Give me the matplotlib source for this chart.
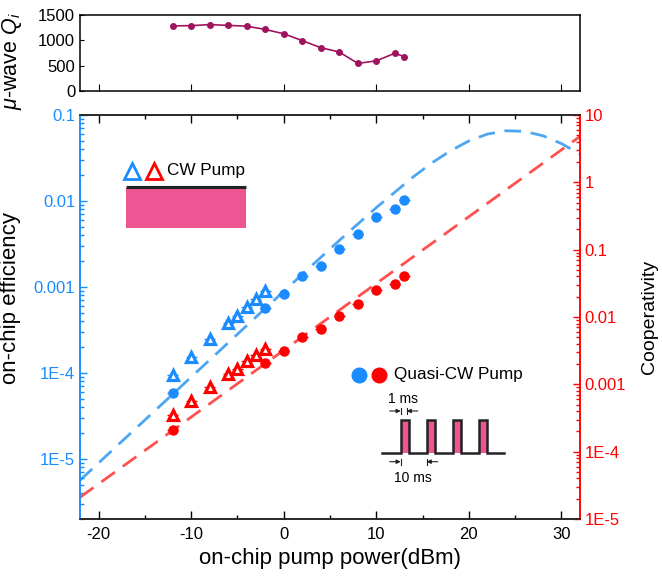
import matplotlib
matplotlib.use('Agg')
import matplotlib.pyplot as plt
import numpy as np
from matplotlib.ticker import FixedLocator, FuncFormatter, LogLocator, MultipleLocator, NullFormatter

plt.rcParams['font.family'] = ['Liberation Sans', 'DejaVu Sans']
plt.rcParams['mathtext.fontset'] = 'custom'
plt.rcParams['mathtext.it'] = 'Liberation Sans:italic'
plt.rcParams['mathtext.rm'] = 'Liberation Sans'
plt.rcParams['axes.unicode_minus'] = False

# ---- data ----
# microwave intrinsic Q vs pump power (top panel)
q_power = [-12, -10, -8, -6, -4, -2, 0, 2, 4, 6, 8, 10, 12, 13]
q_value = [1285, 1290, 1310, 1295, 1280, 1215, 1130, 995, 855, 770, 545, 595, 745, 680]

# quasi-CW pump (circles)
qcw_power = [-12, -2, 0, 2, 4, 6, 8, 10, 12, 13]
qcw_eff = [5.8e-5, 5.65e-4, 8.35e-4, 1.35e-3, 1.77e-3, 2.79e-3, 4.17e-3, 6.5e-3, 8.0e-3, 1.03e-2]
qcw_coop = [2.12e-4, 2.09e-3, 3.08e-3, 4.97e-3, 6.53e-3, 1.03e-2, 1.58e-2, 2.55e-2, 3.13e-2, 4.07e-2]

# CW pump (triangles)
cw_power = [-12, -10, -8, -6, -5, -4, -3, -2]
cw_eff = [9.5e-5, 1.53e-4, 2.45e-4, 3.78e-4, 4.63e-4, 5.9e-4, 7.2e-4, 8.97e-4]
cw_coop = [3.55e-4, 5.6e-4, 9.06e-4, 1.43e-3, 1.70e-3, 2.21e-3, 2.75e-3, 3.37e-3]

# theory curves (dashed)
th_power = [-22, -18, -14, -10, -6, -2, 2, 6, 10, 14, 16, 18, 20, 22, 24, 26, 28, 30, 32]
th_eff = [5.64e-6, 1.42e-5, 3.56e-5, 8.94e-5, 2.24e-4, 5.62e-4, 1.40e-3, 3.47e-3, 8.37e-3,
          1.91e-2, 2.77e-2, 3.83e-2, 4.99e-2, 6.00e-2, 6.56e-2, 6.45e-2, 5.73e-2, 4.65e-2, 3.49e-2]
coop_power = [-22, 32]
coop_line = [2.1e-5, 4.8]

xerr = 0.6

blue = '#1a8cff'
blue_l = '#4da6f2'
red = '#ff0000'
red_l = '#ff5050'
pink = '#ef5592'
purple = '#a0145e'

W, H = 662, 577
fig = plt.figure(figsize=(W / 100, H / 100), dpi=100)

# ---- main axes ----
ax = fig.add_axes([80 / W, 1 - 519 / H, 500 / W, 404 / H])
ax2 = ax.twinx()

ax.set_xlim(-22, 32)
ax.set_yscale('log')
ax.set_ylim(2e-6, 0.1)
ax2.set_yscale('log')
ax2.set_ylim(1e-5, 10)

ax.plot(th_power, th_eff, color=blue_l, lw=2.0, dashes=(6, 3.5), zorder=1)
ax2.plot(coop_power, coop_line, color=red_l, lw=2.0, dashes=(6, 3.5), zorder=1)

ax.errorbar(qcw_power, qcw_eff, xerr=xerr, fmt='o', color=blue, ms=6.5, elinewidth=1, capsize=0, zorder=3)
ax.errorbar(cw_power, cw_eff, xerr=xerr, fmt='^', color=blue, mfc='white', mec=blue, mew=2.3,
            ms=6.5, elinewidth=1, capsize=0, zorder=3)
ax2.errorbar(qcw_power, qcw_coop, xerr=xerr, fmt='o', color=red, ms=6.5, elinewidth=1, capsize=0, zorder=3)
ax2.errorbar(cw_power, cw_coop, xerr=xerr, fmt='^', color=red, mfc='white', mec=red, mew=2.3,
             ms=6.5, elinewidth=1, capsize=0, zorder=3)

left_labels = {0.1: '0.1', 0.01: '0.01', 0.001: '0.001', 1e-4: '1E-4', 1e-5: '1E-5'}
right_labels = {10: '10', 1: '1', 0.1: '0.1', 0.01: '0.01', 0.001: '0.001', 1e-4: '1E-4', 1e-5: '1E-5'}


def fmt_from(d):
    def f(v, pos):
        for k, s in d.items():
            if abs(np.log10(v) - np.log10(k)) < 1e-6:
                return s
        return ''
    return FuncFormatter(f)


ax.yaxis.set_major_locator(FixedLocator(list(left_labels.keys())))
ax.yaxis.set_major_formatter(fmt_from(left_labels))
ax.yaxis.set_minor_locator(LogLocator(base=10, subs=np.arange(2, 10)))
ax.yaxis.set_minor_formatter(NullFormatter())
ax2.yaxis.set_major_locator(FixedLocator(list(right_labels.keys())))
ax2.yaxis.set_major_formatter(fmt_from(right_labels))
ax2.yaxis.set_minor_locator(LogLocator(base=10, subs=np.arange(2, 10)))
ax2.yaxis.set_minor_formatter(NullFormatter())

ax.xaxis.set_major_locator(MultipleLocator(10))
ax.xaxis.set_minor_locator(MultipleLocator(5))
ax.tick_params(axis='x', which='both', direction='in', top=True, labelsize=12, pad=6, width=1)
ax.tick_params(axis='x', which='major', length=6)
ax.tick_params(axis='x', which='minor', length=3)
ax.tick_params(axis='y', which='both', direction='in', colors=blue, labelsize=12, width=1)
ax.tick_params(axis='y', which='major', length=5)
ax.tick_params(axis='y', which='minor', length=3)
ax2.tick_params(axis='y', which='both', direction='in', colors=red, labelsize=12, width=1)
ax2.tick_params(axis='y', which='major', length=5)
ax2.tick_params(axis='y', which='minor', length=3)

for a in (ax, ax2):
    for s in a.spines.values():
        s.set_linewidth(1.1)
    a.spines['left'].set_color(blue)
    a.spines['right'].set_color(red)
    a.spines['top'].set_color('#222222')
    a.spines['bottom'].set_color('#222222')

ax.set_xlabel('on-chip pump power(dBm)', fontsize=16, labelpad=4)
ax.set_ylabel('on-chip efficiency', fontsize=16)
ax.yaxis.set_label_coords(-0.118, 0.547)
ax2.set_ylabel('Cooperativity', fontsize=14)
ax2.yaxis.set_label_coords(1.122, 0.5)

# ---- top panel ----
axt = fig.add_axes([80 / W, 1 - 91 / H, 500 / W, 76 / H])
axt.plot(q_power, q_value, '-o', color=purple, ms=4, lw=1.2)
axt.set_xlim(-22, 32)
axt.set_ylim(0, 1500)
axt.xaxis.set_major_locator(MultipleLocator(10))
axt.set_yticks([0, 500, 1000, 1500])
axt.tick_params(axis='x', direction='in', labelbottom=False, length=5)
axt.tick_params(axis='y', direction='in', labelsize=12, length=3)
for s in axt.spines.values():
    s.set_linewidth(1.1)
axt.set_ylabel(r'$\mu$-wave $Q_i$', fontsize=15.5)
axt.yaxis.set_label_coords(-0.112, 0.4)

# ---- annotations (figure pixel coordinates) ----
axo = fig.add_axes([0, 0, 1, 1], zorder=10)
axo.set_xlim(0, W)
axo.set_ylim(H, 0)
axo.axis('off')

axo.plot([131.7], [170.7], '^', ms=11, mfc='none', mec=blue, mew=2)
axo.plot([154.3], [170.7], '^', ms=11, mfc='none', mec=red, mew=2)
axo.text(167, 171, 'CW Pump', fontsize=12.3, va='center', ha='left')
axo.add_patch(plt.Rectangle((125.7, 188), 120, 40, color=pink, lw=0))
axo.plot([125.7, 245.7], [187, 187], color='#222222', lw=2.2, solid_capstyle='butt')

axo.plot([359.3], [375], 'o', ms=10.5, color=blue)
axo.plot([378.7], [375], 'o', ms=10.5, color=red)
axo.text(394, 375, 'Quasi-CW Pump', fontsize=12.3, va='center', ha='left')

base, top = 453.3, 420
px = [382]
py = [base]
for x0 in [400.7, 426.7, 452.7, 479.3]:
    axo.add_patch(plt.Rectangle((x0, top), 8, base - top, color=pink, lw=0))
    px += [x0, x0, x0 + 8, x0 + 8]
    py += [base, top, top, base]
px.append(504)
py.append(base)
axo.plot(px, py, color='#222222', lw=1.8, solid_joinstyle='miter')

axo.text(402.5, 399, '1 ms', fontsize=10, ha='center', va='center')
axo.text(413, 478, '10 ms', fontsize=10, ha='center', va='center')
arr = dict(arrowstyle='-|>', lw=0.8, color='#222222', mutation_scale=6, shrinkA=0, shrinkB=0)
for y, (xa, xb) in [(411, (400.7, 406.7)), (461.7, (400.7, 426.7))]:
    axo.annotate('', xy=(xa, y), xytext=(xa - 11, y), arrowprops=arr)
    axo.annotate('', xy=(xb, y), xytext=(xb + 11, y), arrowprops=arr)
    axo.plot([xa, xa], [y - 3, y + 3], color='#222222', lw=0.8)
    axo.plot([xb, xb], [y - 3, y + 3], color='#222222', lw=0.8)

fig.savefig('out.png', dpi=100)
